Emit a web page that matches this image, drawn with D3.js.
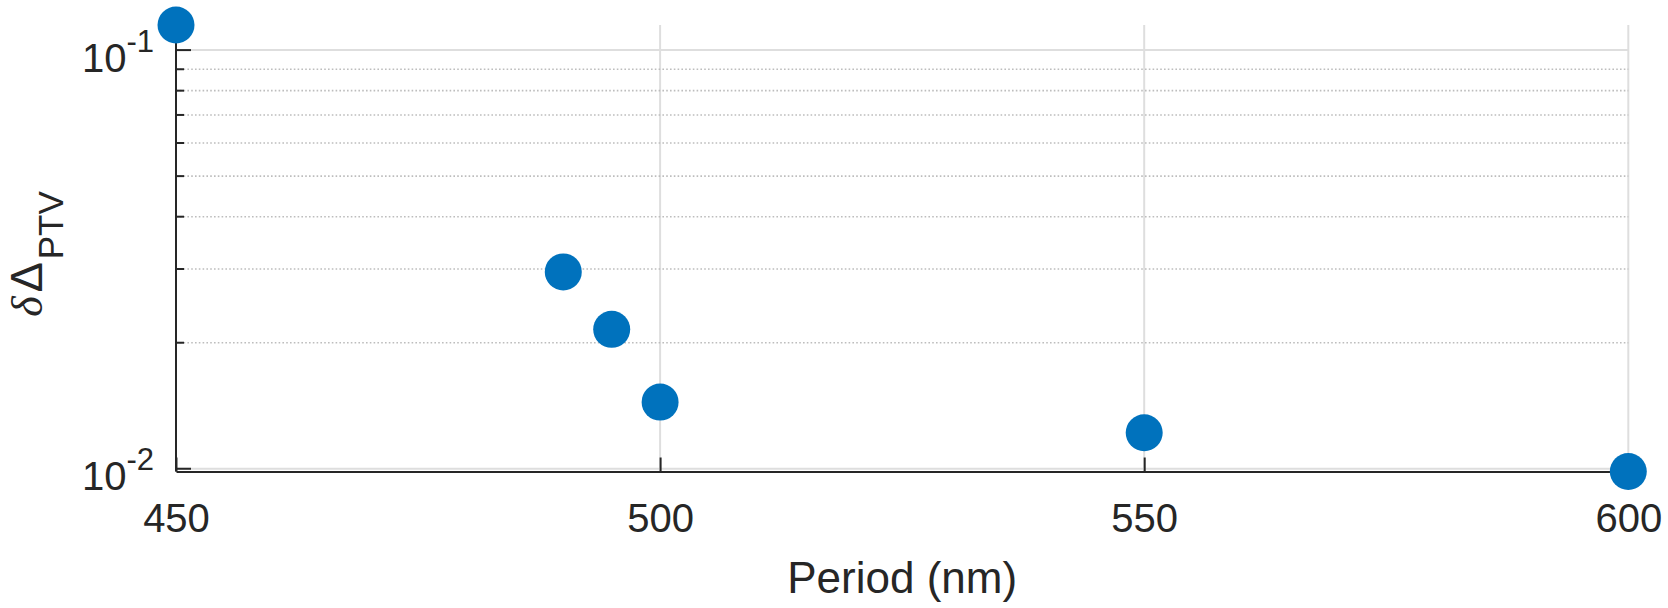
<!DOCTYPE html>
<html>
<head>
<meta charset="utf-8">
<script src="https://cdn.jsdelivr.net/npm/d3@7"></script>
<style>
  html, body { margin: 0; padding: 0; background: #fff; }
  svg { display: block; }
</style>
</head>
<body>
<svg id="chart" width="1668" height="608"></svg>
<script>
// ---- data ----
const periods = [450, 490, 495, 500, 550, 600];
const deltaPTV = [0.1148, 0.02952, 0.02153, 0.01443, 0.01219, 0.00985];
const xTicks = [450, 500, 550, 600];
const yMajorTicks = [0.01, 0.1];
const yMajorExponents = ["-2", "-1"];
const yMinorTicks = [0.02, 0.03, 0.04, 0.05, 0.06, 0.07, 0.08, 0.09];
const xLabel = "Period (nm)";

// ---- layout ----
const W = 1668, H = 608;
const m = { left: 176, right: W - 1628.3, top: 25, bottom: H - 471.5 };
const axisColor = "#262626";
const markerColor = "#0072BD";
const sans = "'Liberation Sans', Arial, Helvetica, sans-serif";

const svg = d3.select("#chart");

const x = d3.scaleLinear()
  .domain(d3.extent(periods))
  .range([m.left, W - m.right]);
const y = d3.scaleLog()
  .domain(d3.extent(deltaPTV))
  .range([H - m.bottom, m.top]);

const x0 = m.left, x1 = W - m.right, y0 = H - m.bottom, y1 = m.top;

// ---- grid ----
const grid = svg.append("g");
grid.selectAll("line.vg").data(xTicks).join("line")
  .attr("x1", d => x(d)).attr("x2", d => x(d))
  .attr("y1", y1).attr("y2", y0)
  .attr("stroke", "#dedede").attr("stroke-width", 2);
grid.selectAll("line.mn").data(yMinorTicks).join("line")
  .attr("x1", x0).attr("x2", x1)
  .attr("y1", d => y(d)).attr("y2", d => y(d))
  .attr("stroke", "#bdbdbd").attr("stroke-width", 1.6)
  .attr("stroke-dasharray", "1.6,2.2");
grid.selectAll("line.mj").data(yMajorTicks).join("line")
  .attr("x1", x0).attr("x2", x1)
  .attr("y1", d => y(d)).attr("y2", d => y(d))
  .attr("stroke", "#dedede").attr("stroke-width", 2);

// ---- x axis ----
const xAxis = d3.axisBottom(x).tickValues(xTicks).tickSize(-14).tickSizeOuter(0)
  .tickPadding(0).tickFormat(d3.format("d"));
const gx = svg.append("g").attr("transform", `translate(0,${y0})`).call(xAxis);
gx.select(".domain").attr("stroke", axisColor).attr("stroke-width", 2);
gx.selectAll(".tick line").attr("stroke", axisColor).attr("stroke-width", 2);
gx.selectAll(".tick text")
  .attr("font-family", sans).attr("font-size", 40).attr("fill", axisColor)
  .attr("dy", null).attr("y", 60);

// ---- y axis ----
const gy = svg.append("g");
gy.append("line").attr("x1", x0).attr("x2", x0).attr("y1", y1).attr("y2", y0)
  .attr("stroke", axisColor).attr("stroke-width", 2);
gy.selectAll("line.mjt").data(yMajorTicks).join("line")
  .attr("x1", x0).attr("x2", x0 + 15)
  .attr("y1", d => y(d)).attr("y2", d => y(d))
  .attr("stroke", axisColor).attr("stroke-width", 2);
gy.selectAll("line.mnt").data(yMinorTicks).join("line")
  .attr("x1", x0).attr("x2", x0 + 8)
  .attr("y1", d => y(d)).attr("y2", d => y(d))
  .attr("stroke", axisColor).attr("stroke-width", 2);
const ylab = gy.selectAll("text.yl").data(yMajorTicks).join("text")
  .attr("x", x0 - 22).attr("y", d => y(d) + 21.5)
  .attr("text-anchor", "end")
  .attr("font-family", sans).attr("fill", axisColor);
ylab.append("tspan").attr("font-size", 40).text("10");
ylab.append("tspan").attr("font-size", 31).attr("dy", -20)
  .text((d, i) => yMajorExponents[i]);

// ---- axis labels ----
svg.append("text")
  .attr("x", (x0 + x1) / 2).attr("y", 592.5)
  .attr("text-anchor", "middle")
  .attr("font-family", sans).attr("font-size", 44).attr("fill", axisColor)
  .text(xLabel);

const yl = svg.append("text")
  .attr("transform", "translate(42,254) rotate(-90)")
  .attr("text-anchor", "middle")
  .attr("font-family", sans).attr("fill", axisColor);
yl.append("tspan").attr("font-family", "'Liberation Serif', 'Times New Roman', serif")
  .attr("font-style", "italic").attr("font-size", 44).text("δ");
yl.append("tspan").attr("font-size", 45).attr("dx", 4).text("Δ");
yl.append("tspan").attr("font-size", 35).attr("dx", 3).attr("dy", 21).text("PTV");

// ---- points ----
svg.append("g").selectAll("circle").data(periods).join("circle")
  .attr("cx", d => x(d))
  .attr("cy", (d, i) => y(deltaPTV[i]))
  .attr("r", 18.5)
  .attr("fill", markerColor);
</script>
</body>
</html>
